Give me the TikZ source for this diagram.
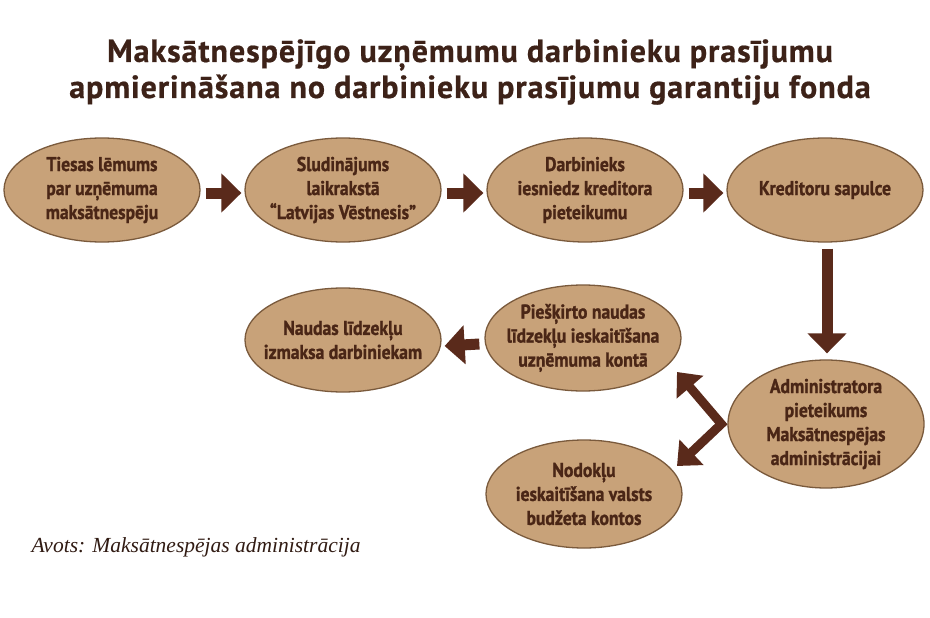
\documentclass[tikz,border=0pt]{standalone}
\usepackage{fontspec}
\usetikzlibrary{shapes.geometric,arrows.meta}
\newfontfamily\boxfont[FakeStretch=0.88,BoldFeatures={FakeBold=1.2}]{PT Sans}
\newfontfamily\titlefont[LetterSpace=3,BoldFeatures={FakeBold=0.6}]{PT Sans}
\newfontfamily\footfont{Liberation Serif}
\definecolor{tan}{HTML}{C8A279}
\definecolor{rim}{HTML}{7A5A3C}
\definecolor{txt}{HTML}{4A2616}
\definecolor{arrc}{HTML}{5A2A1B}
\definecolor{ttl}{HTML}{3D2218}
\newcommand\ellbox[4]{%
  \node[ell,minimum height=#3] (#1) at (#2) {};
  \node[lbl] (#1-t) at (#1.center) {#4};}
\begin{document}
\begin{tikzpicture}[x=1pt,y=-1pt,
  ell/.style={ellipse,draw=rim,line width=1.3pt,fill=tan,inner sep=0pt,
    minimum width=196pt,minimum height=104pt},
  lbl/.style={align=center,text=txt,inner sep=0pt,
    font=\boxfont\bfseries\fontsize{20}{24}\selectfont},
  arr/.style={draw=arrc,line width=11pt,-{Triangle[width=38pt,length=20pt]}},
  arrv/.style={draw=arrc,line width=9pt,line join=miter,
    {Triangle[width=34pt,length=20pt]}-{Triangle[width=34pt,length=20pt]}}]
\useasboundingbox (0,0) rectangle (930,618);
\fill[white] (0,0) rectangle (930,618);
\node[text=ttl,font=\titlefont\bfseries\fontsize{32}{36}\selectfont,align=center] (title) at (470,72)
  {Maksātnespējīgo uzņēmumu darbinieku prasījumu\\apmierināšana no darbinieku prasījumu garantiju fonda};
\ellbox{a}{102,190}{104pt}{Tiesas lēmums\\par uzņēmuma\\maksātnespēju}
\ellbox{b}{343,190}{104pt}{Sludinājums\\laikrakstā\\“Latvijas Vēstnesis”}
\ellbox{c}{585,190}{104pt}{Darbinieks\\iesniedz kreditora\\pieteikumu}
\ellbox{d}{825,190}{104pt}{Kreditoru sapulce}
\ellbox{e}{826,424}{128pt}{Administratora\\pieteikums\\Maksātnespējas\\administrācijai}
\ellbox{f}{583,338}{106pt}{Piešķirto naudas\\līdzekļu ieskaitīšana\\uzņēmuma kontā}
\ellbox{g}{343,340}{104pt}{Naudas līdzekļu\\izmaksa darbiniekam}
\ellbox{h}{584,494}{108pt}{Nodokļu\\ieskaitīšana valsts\\budžeta kontos}
\node[anchor=west,text=ttl!80!black,font=\footfont\itshape\fontsize{21.5}{24}\selectfont] (src) at (28,547) {Avots: Maksātnespējas administrācija};
\draw[arr] ([shift={(5,3)}]a.east) -- ([shift={(-3,3)}]b.west);
\draw[arr] ([shift={(5,3)}]b.east) -- ([shift={(-3,3)}]c.west);
\draw[arr] ([shift={(5,3)}]c.east) -- ([shift={(-3,3)}]d.west);
\draw[arr] ([shift={(2,6)}]d.south) -- ([shift={(1,-6)}]e.north);
\draw[arr] ([shift={(-5,6)}]f.west) -- ([shift={(3,6)}]g.east);
\coordinate (vt) at (677,372);
\coordinate (vb) at (677,466);
\draw[arrv] (vt) -- ([xshift=-6pt]e.west) -- (vb);
\end{tikzpicture}
\end{document}
